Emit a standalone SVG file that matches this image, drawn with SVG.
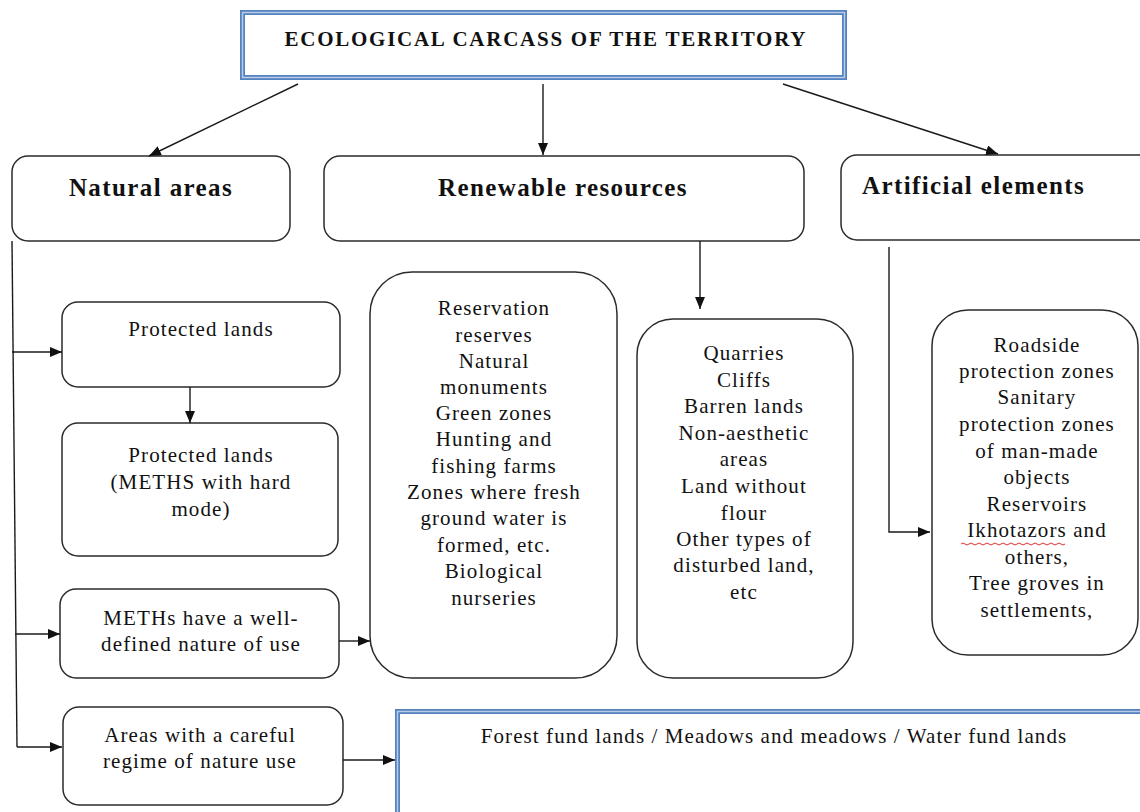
<svg xmlns="http://www.w3.org/2000/svg" width="1140" height="812" viewBox="0 0 1140 812">
<style>
.box{fill:#fff;stroke:#2b2b2b;stroke-width:1.5}
.bl1{fill:#fff;stroke:#5482c0;stroke-width:5}
.bl2{fill:none;stroke:#b8cce8;stroke-width:1.5}
.t{font-family:"Liberation Serif","Times New Roman",serif;font-size:21px;fill:#111;text-anchor:middle;letter-spacing:1.1px}
.h{font-family:"Liberation Serif","Times New Roman",serif;font-size:25px;font-weight:bold;fill:#111;letter-spacing:1.4px}
.c{fill:none;stroke:#1a1a1a;stroke-width:1.4}
.a{marker-end:url(#ah)}
</style>
<defs>
<marker id="ah" viewBox="0 0 12 10" refX="12" refY="5" markerWidth="12" markerHeight="10" markerUnits="userSpaceOnUse" orient="auto">
<path d="M0,0 L12,5 L0,10 Z" fill="#111"/>
</marker>
</defs>
<rect width="1140" height="812" fill="#fff"/>

<g id="title">
<rect class="bl1" x="242.5" y="12.5" width="602" height="65"/>
<rect class="bl2" x="242.5" y="12.5" width="602" height="65"/>
<text x="545" y="46" textLength="521" lengthAdjust="spacing" style="font-family:'Liberation Serif','Times New Roman',serif;font-size:21px;font-weight:bold;fill:#111;text-anchor:middle">ECOLOGICAL CARCASS OF THE TERRITORY</text>
</g>

<g id="natural">
<rect class="box" x="12" y="156" width="278" height="85" rx="16"/>
<text class="h" x="151" y="196" text-anchor="middle">Natural areas</text>
</g>

<g id="renewable">
<rect class="box" x="324" y="156" width="480" height="85" rx="16"/>
<text class="h" x="563" y="196" text-anchor="middle">Renewable resources</text>
</g>

<g id="artificial">
<rect class="box" x="841" y="155" width="320" height="85" rx="16"/>
<text class="h" x="862" y="194">Artificial elements</text>
</g>

<g id="protected">
<rect class="box" x="62" y="302" width="278" height="85" rx="16"/>
<text class="t" x="201" y="336">Protected lands</text>
</g>

<g id="protected-hard">
<rect class="box" x="62" y="423" width="276" height="133" rx="16"/>
<text class="t" x="201" y="462">Protected lands</text>
<text class="t" x="201" y="489">(METHS with hard</text>
<text class="t" x="201" y="516">mode)</text>
</g>

<g id="meths">
<rect class="box" x="60" y="589" width="279" height="89" rx="16"/>
<text class="t" x="201" y="625">METHs have a well-</text>
<text class="t" x="201" y="651">defined nature of use</text>
</g>

<g id="careful">
<rect class="box" x="63" y="707" width="280" height="98" rx="16"/>
<text class="t" x="200" y="742">Areas with a careful</text>
<text class="t" x="200" y="768">regime of nature use</text>
</g>

<g id="reservation">
<rect class="box" x="370" y="272" width="247" height="406" rx="42"/>
<text class="t" x="494" y="315">Reservation</text>
<text class="t" x="494" y="342">reserves</text>
<text class="t" x="494" y="368">Natural</text>
<text class="t" x="494" y="394">monuments</text>
<text class="t" x="494" y="420">Green zones</text>
<text class="t" x="494" y="446">Hunting and</text>
<text class="t" x="494" y="473">fishing farms</text>
<text class="t" x="494" y="499">Zones where fresh</text>
<text class="t" x="494" y="525">ground water is</text>
<text class="t" x="494" y="552">formed, etc.</text>
<text class="t" x="494" y="578">Biological</text>
<text class="t" x="494" y="605">nurseries</text>
</g>

<g id="quarries">
<rect class="box" x="637" y="319" width="216" height="359" rx="36"/>
<text class="t" x="744" y="360">Quarries</text>
<text class="t" x="744" y="387">Cliffs</text>
<text class="t" x="744" y="413">Barren lands</text>
<text class="t" x="744" y="440">Non-aesthetic</text>
<text class="t" x="744" y="466">areas</text>
<text class="t" x="744" y="493">Land without</text>
<text class="t" x="744" y="520">flour</text>
<text class="t" x="744" y="546">Other types of</text>
<text class="t" x="744" y="572">disturbed land,</text>
<text class="t" x="744" y="599">etc</text>
</g>

<g id="roadside">
<rect class="box" x="932" y="310" width="206" height="345" rx="36"/>
<text class="t" x="1037" y="352">Roadside</text>
<text class="t" x="1037" y="378">protection zones</text>
<text class="t" x="1037" y="404">Sanitary</text>
<text class="t" x="1037" y="431">protection zones</text>
<text class="t" x="1037" y="458">of man-made</text>
<text class="t" x="1037" y="484">objects</text>
<text class="t" x="1037" y="511">Reservoirs</text>
<text class="t" x="1037" y="537">Ikhotazors and</text>
<path d="M961,544 q2,-2 4,0 t4,0 t4,0 t4,0 t4,0 t4,0 t4,0 t4,0 t4,0 t4,0 t4,0 t4,0 t4,0 t4,0 t4,0 t4,0 t4,0 t4,0 t4,0 t4,0 t4,0 t4,0 t4,0 t4,0 t4,0 t4,0" fill="none" stroke="#e03030" stroke-width="1"/>
<text class="t" x="1037" y="564">others,</text>
<text class="t" x="1037" y="590">Tree groves in</text>
<text class="t" x="1037" y="617">settlements,</text>
</g>

<g id="funds">
<rect class="bl1" x="397.5" y="711.5" width="800" height="200"/>
<rect class="bl2" x="397.5" y="711.5" width="800" height="200"/>
<text class="t" x="774" y="743">Forest fund lands / Meadows and meadows / Water fund lands</text>
</g>

<g id="connectors">
<line class="c a" x1="298" y1="84" x2="149" y2="156"/>
<line class="c a" x1="543" y1="84" x2="543" y2="155"/>
<line class="c a" x1="783" y1="84" x2="998" y2="154"/>
<line class="c" x1="12" y1="241" x2="17" y2="747"/>
<line class="c a" x1="12" y1="352" x2="62" y2="352"/>
<line class="c a" x1="15" y1="634" x2="60" y2="634"/>
<line class="c a" x1="17" y1="747" x2="62" y2="747"/>
<line class="c a" x1="190" y1="387" x2="190" y2="423"/>
<line class="c a" x1="339" y1="641" x2="370" y2="641"/>
<line class="c a" x1="343" y1="760" x2="395" y2="760"/>
<line class="c a" x1="700" y1="241" x2="700" y2="309"/>
<polyline class="c a" points="889,247 889,532 930,532"/>
</g>
</svg>
